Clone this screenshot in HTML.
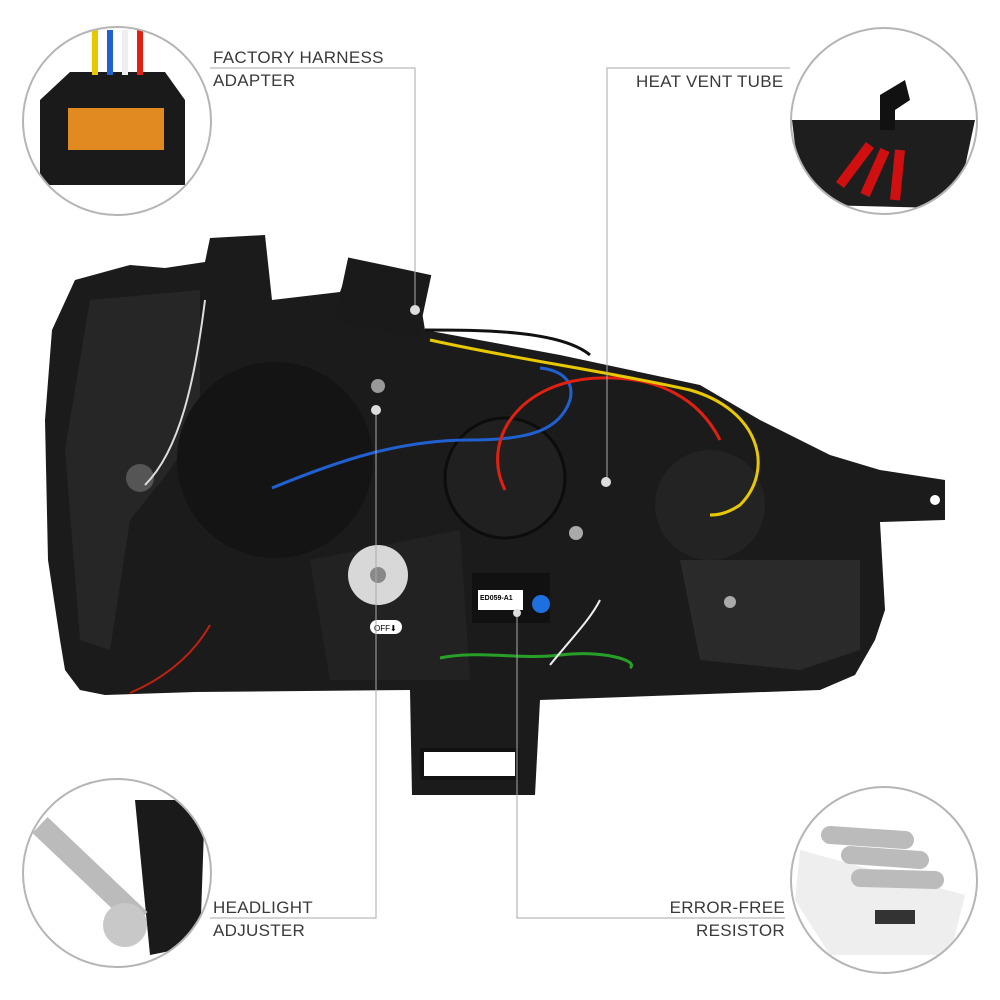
<!DOCTYPE html>
<html><head><meta charset="utf-8"><style>
body{margin:0;background:#fff;width:1000px;height:1000px;overflow:hidden;font-family:"Liberation Sans",sans-serif}
.t{position:absolute;font-size:17px;color:#3a3a3a;letter-spacing:.3px;line-height:23px}
</style></head><body>
<svg width="1000" height="1000" style="position:absolute;left:0;top:0">
<defs>
<clipPath id="c1"><circle cx="117" cy="121" r="93"/></clipPath>
<clipPath id="c2"><circle cx="884" cy="121" r="92"/></clipPath>
<clipPath id="c3"><circle cx="117" cy="873" r="93"/></clipPath>
<clipPath id="c4"><circle cx="884" cy="880" r="92"/></clipPath>
</defs>
<!-- headlight body -->
<path d="M75,280 L130,265 L165,268 L205,262 L210,238 L265,235 L272,300 L340,292 L350,265 L420,300 L425,330 L560,355 L700,385 L760,420 L830,455 L880,470 L945,480 L945,520 L880,522 L885,610 L875,640 L855,675 L820,690 L540,700 L535,795 L412,795 L410,690 L195,692 L105,695 L80,690 L65,670 L60,640 L48,560 L45,420 L52,330 Z" fill="#1b1b1b"/>
<path d="M90,300 L200,290 L200,420 L170,470 L130,520 L110,650 L80,640 L65,450 Z" fill="#262626"/>
<circle cx="275" cy="460" r="98" fill="#141414"/>
<circle cx="505" cy="478" r="60" fill="#202020" stroke="#0c0c0c" stroke-width="3"/>
<circle cx="710" cy="505" r="55" fill="#232323"/>
<path d="M680,560 L860,560 L860,650 L800,670 L700,660 Z" fill="#2a2a2a"/>
<path d="M310,560 L460,530 L470,680 L330,680 Z" fill="#222"/>
<rect x="422" y="750" width="95" height="28" fill="#fff" stroke="#111" stroke-width="4"/>
<circle cx="935" cy="500" r="5" fill="#fff"/>
<circle cx="378" cy="575" r="30" fill="#d8d8d8"/><circle cx="378" cy="575" r="8" fill="#888"/>
<rect x="472" y="573" width="78" height="50" fill="#111"/>
<rect x="478" y="590" width="45" height="20" fill="#fff"/>
<circle cx="541" cy="604" r="9" fill="#1e6fe0"/>
<text x="480" y="600" font-size="7" font-family="Liberation Sans" font-weight="bold">ED059-A1</text>
<rect x="370" y="620" width="32" height="14" rx="7" fill="#fff"/>
<text x="374" y="631" font-size="8" font-family="Liberation Sans">OFF⬇</text>
<circle cx="140" cy="478" r="14" fill="#555"/>
<circle cx="378" cy="386" r="7" fill="#999"/>
<circle cx="576" cy="533" r="7" fill="#aaa"/>
<circle cx="730" cy="602" r="6" fill="#aaa"/>
<g fill="none" stroke-width="3">
<path d="M272,488 C340,460 400,440 470,440 C530,440 560,430 570,400 C575,380 560,370 540,368" stroke="#2060d0"/>
<path d="M505,490 C480,440 520,380 600,378 C660,376 700,400 720,440" stroke="#e02010"/>
<path d="M430,340 C520,360 600,370 690,390 C760,410 775,470 740,505 C725,515 715,515 710,515" stroke="#e8c800"/>
<path d="M425,330 C480,330 560,330 590,355" stroke="#111"/>
<path d="M145,485 C180,450 195,380 205,300" stroke="#ddd" stroke-width="2"/>
<path d="M440,658 C480,650 520,660 560,655 C600,650 640,660 630,668" stroke="#28a028"/>
<path d="M550,665 C570,640 590,620 600,600" stroke="#eee" stroke-width="2"/>
<path d="M130,693 C160,680 190,660 210,625" stroke="#c02010" stroke-width="2"/>
</g>
<rect x="340" y="265" width="85" height="65" fill="#1a1a1a" transform="rotate(12 380 300)"/>
<!-- leader lines -->
<g stroke="#aaa" stroke-width="1" fill="none">
<polyline points="210,68 415,68 415,310"/>
<polyline points="790,68 607,68 607,480"/>
<polyline points="376,410 376,918 210,918"/>
<polyline points="517,612 517,918 785,918"/>
</g>
<circle cx="415" cy="310" r="5" fill="#ddd"/>
<circle cx="376" cy="410" r="5" fill="#ddd"/>
<circle cx="606" cy="482" r="5" fill="#ddd"/>
<circle cx="517" cy="613" r="4" fill="#ddd"/>
<!-- circles -->
<g stroke="#b5b5b5" stroke-width="2">
<circle cx="117" cy="121" r="94" fill="#fff"/>
<circle cx="884" cy="121" r="93" fill="#fff"/>
<circle cx="117" cy="873" r="94" fill="#fff"/>
<circle cx="884" cy="880" r="93" fill="#fff"/>
</g>
<g clip-path="url(#c1)">
<path d="M40,100 L70,72 L165,72 L185,100 L185,185 L40,185 Z" fill="#1a1a1a"/>
<rect x="68" y="108" width="96" height="42" fill="#e08a20"/>
<g stroke-width="6"><line x1="95" y1="30" x2="95" y2="75" stroke="#e8c800"/><line x1="110" y1="30" x2="110" y2="75" stroke="#2060d0"/><line x1="125" y1="30" x2="125" y2="75" stroke="#eee"/><line x1="140" y1="30" x2="140" y2="75" stroke="#e02010"/></g>
</g>
<g clip-path="url(#c2)">
<path d="M792,120 L975,120 L960,190 L940,208 L820,205 L798,170 Z" fill="#1e1e1e"/>
<path d="M880,130 L880,95 L905,80 L910,100 L895,110 L895,130 Z" fill="#111"/>
<path d="M870,145 L840,185 M885,150 L865,195 M900,150 L895,200" stroke="#d01010" stroke-width="10"/>
</g>
<g clip-path="url(#c3)">
<path d="M135,800 L205,800 L200,945 L150,955 Z" fill="#1a1a1a"/>
<line x1="40" y1="825" x2="140" y2="920" stroke="#bbb" stroke-width="22"/>
<circle cx="125" cy="925" r="22" fill="#c8c8c8"/>
</g>
<g clip-path="url(#c4)">
<path d="M800,850 L965,895 L950,955 L830,955 L795,900 Z" fill="#eee"/>
<g stroke="#bbb" stroke-width="18" stroke-linecap="round"><line x1="830" y1="835" x2="905" y2="840"/><line x1="850" y1="855" x2="920" y2="860"/><line x1="860" y1="878" x2="935" y2="880"/></g>
<rect x="875" y="910" width="40" height="14" fill="#333"/>
</g>
</svg>
<div class="t" style="left:213px;top:46px">FACTORY HARNESS<br>ADAPTER</div>
<div class="t" style="left:636px;top:70px">HEAT VENT TUBE</div>
<div class="t" style="left:213px;top:896px">HEADLIGHT<br>ADJUSTER</div>
<div class="t" style="left:640px;top:896px;text-align:right;width:145px">ERROR-FREE<br>RESISTOR</div>
</body></html>
